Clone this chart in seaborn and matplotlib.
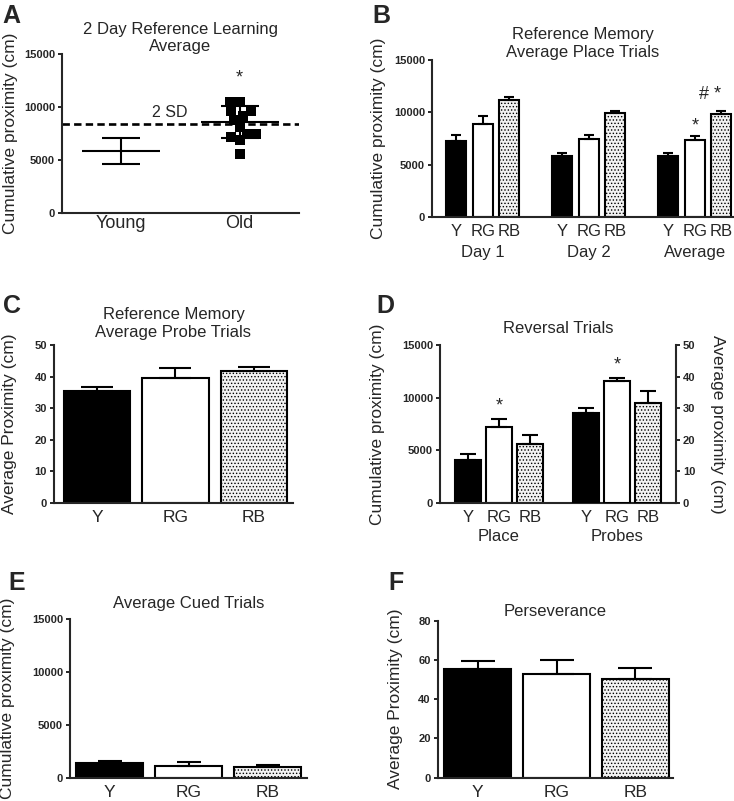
import numpy as np
import pandas as pd
import seaborn as sns
import matplotlib.pyplot as plt
import matplotlib.transforms as mtransforms

# ---- values ----
groups = ["Y", "RG", "RB"]
bar_colors = ["black", "white", "#f2f2f2"]

# A: 2 day reference learning average (Young mean +/- SEM, Old points with mean +/- SD)
a_groups = ["Young", "Old"]
a_means = [5830, 8560]
a_errs = [1210, 1520]
a_old_points = [10500, 10500, 9600, 9600, 9200, 8800, 8100, 7500, 7500, 7200, 6900, 5600]
a_cutoff = 8370

# B: reference memory, place trials
b_days = ["Day 1", "Day 2", "Average"]
b_y = [7300, 5800, 5800]
b_rg = [8880, 7450, 7390]
b_rb = [11160, 9960, 9860]
b_y_err = [560, 350, 350]
b_rg_err = [760, 350, 350]
b_rb_err = [320, 190, 230]

# C: reference memory, probe trials
c_means = [35.5, 39.7, 41.7]
c_errs = [1.3, 2.9, 1.4]

# D: reversal trials (place on left axis, probes on right axis)
d_blocks = ["Place", "Probes"]
d_place = [4040, 7230, 5620]
d_place_err = [570, 790, 820]
d_probe = [28.5, 38.5, 31.8]
d_probe_err = [1.6, 1.0, 3.8]

# E: cued trials
e_means = [1420, 1140, 1040]
e_errs = [190, 340, 190]

# F: perseverance
f_means = [55.4, 52.8, 50.1]
f_errs = [4.0, 7.0, 5.9]

# ---- style ----
sns.set_style("ticks")
plt.rcParams["font.family"] = ["Liberation Sans", "DejaVu Sans"]
plt.rcParams["axes.linewidth"] = 1.5
plt.rcParams["hatch.linewidth"] = 0.6
plt.rcParams["hatch.color"] = "#a5a5a5"

TICK_FAMILY = ["Liberation Sans Narrow", "Liberation Sans", "DejaVu Sans"]

W, H = 734, 801
fig = plt.figure(figsize=(W / 100, H / 100), dpi=100)


def add_ax(l, t, r, b):
    return fig.add_axes([l / W, 1 - b / H, (r - l) / W, (b - t) / H])


def style(ax, title, pad, ylabel, label_x, ticks, xsize=12.5, xpad=5):
    ax.set_title(title, fontsize=12, pad=pad, linespacing=1.2)
    ax.set_ylabel(ylabel, fontsize=12.5)
    ax.yaxis.set_label_coords(label_x, 0.5)
    ax.set_xlabel("")
    ax.set_ylim(ticks[0], ticks[-1])
    ax.set_yticks(ticks, [f"{t:g}" for t in ticks], fontweight="bold",
                  fontsize=8, fontfamily=TICK_FAMILY)
    ax.tick_params(axis="y", length=3, width=1.4, pad=2)
    ax.tick_params(axis="x", length=0, pad=xpad, labelsize=xsize)
    sns.despine(ax=ax)


def dot_fill(patch):
    patch.set_hatch(".....")
    if hasattr(patch, "set_hatchcolor"):
        patch.set_hatchcolor("#a5a5a5")


def up_errors(ax, container, errs, capsize):
    xs = [p.get_x() + p.get_width() / 2 for p in container]
    ys = [p.get_height() for p in container]
    ax.errorbar(xs, ys, yerr=[np.zeros(len(errs)), errs], fmt="none",
                ecolor="black", elinewidth=1.5, capsize=capsize, capthick=1.5)


def star(ax, x, y, text="*", dx=0):
    ax.annotate(text, (x, y), xytext=(dx, -7.5), textcoords="offset points",
                ha="center", va="baseline", fontsize=13)


def center(p):
    return p.get_x() + p.get_width() / 2


def bar_panel(ax, means, errs, capsize):
    df = pd.DataFrame({"group": groups, "mean": means})
    sns.barplot(data=df, x="group", y="mean", hue="group", order=groups,
                hue_order=groups, palette=bar_colors, saturation=1,
                edgecolor="black", linewidth=1.5, width=0.85, errorbar=None,
                legend=False, ax=ax)
    for cont, g, err in zip(ax.containers, groups, errs):
        if g == "RB":
            for p in cont:
                dot_fill(p)
        up_errors(ax, cont, [err], capsize)


# ---- A ----
ax = add_ax(62, 54.3, 299, 212.7)
old_df = pd.DataFrame({"group": "Old", "value": a_old_points})
sns.swarmplot(data=old_df, x="group", y="value", order=a_groups, marker="s",
              size=6.5, color="black", linewidth=0, ax=ax)
xs = np.arange(len(a_groups))
ax.hlines(a_means, xs - 0.33, xs + 0.33, color="black", lw=1.5)
ax.errorbar(xs, a_means, yerr=a_errs, fmt="none", ecolor="black",
            elinewidth=1.5, capsize=14, capthick=1.5)
ax.axhline(a_cutoff, color="black", lw=1.9, ls=(0, (2.8, 1.6)))
ax.text(0.41, 9510, "2 SD", ha="center", va="center", fontsize=11.5)
star(ax, 1, 13350)
ax.set_xlim(-0.5, 1.5)
style(ax, "2 Day Reference Learning\nAverage", -1.7, "Cumulative proximity (cm)",
      -0.186, [0, 5000, 10000, 15000], xsize=13, xpad=2)

# ---- B ----
ax = add_ax(432, 60, 733, 217)
b_df = pd.DataFrame({"day": b_days * 3, "group": np.repeat(groups, 3),
                     "mean": b_y + b_rg + b_rb})
sns.barplot(data=b_df, x="day", y="mean", hue="group", order=b_days,
            hue_order=groups, palette=bar_colors, saturation=1,
            edgecolor="black", linewidth=1.5, width=0.75, gap=0.25,
            errorbar=None, legend=False, ax=ax)
for cont, g, errs in zip(ax.containers, groups, [b_y_err, b_rg_err, b_rb_err]):
    if g == "RB":
        for p in cont:
            dot_fill(p)
    up_errors(ax, cont, errs, 3.3)
star(ax, center(ax.containers[1][2]), 9290)
star(ax, center(ax.containers[2][2]), 12300, text="# *", dx=-8)
ax.set_xlim(-0.48, 2.36)
style(ax, "Reference Memory\nAverage Place Trials", 2.4, "Cumulative proximity (cm)",
      -0.153, [0, 5000, 10000, 15000], xsize=12, xpad=4.7)
pos = sorted([(center(p), g) for cont, g in zip(ax.containers, groups) for p in cont])
ax.set_xticks([x for x, _ in pos], [g for _, g in pos])
trans = mtransforms.blended_transform_factory(ax.transData, ax.transAxes)
for i, d in enumerate(b_days):
    ax.text(i, -0.178, d, transform=trans, ha="center", va="top", fontsize=12)

# ---- C ----
ax = add_ax(54, 345, 293, 503)
bar_panel(ax, c_means, c_errs, 11.5)
ax.set_xlim(-0.55, 2.5)
style(ax, "Reference Memory\nAverage Probe Trials", 6, "Average Proximity (cm)",
      -0.155, [0, 10, 20, 30, 40, 50])

# ---- D ----
ax = add_ax(440, 345, 676, 503)
ax2 = ax.twinx()
place_df = pd.DataFrame({"block": "Place", "group": groups, "mean": d_place})
probe_df = pd.DataFrame({"block": "Probes", "group": groups, "mean": d_probe})
common = dict(x="block", y="mean", hue="group", order=d_blocks, hue_order=groups,
              palette=bar_colors, saturation=1, edgecolor="black", linewidth=1.5,
              width=0.79, gap=0.16, errorbar=None, legend=False)
sns.barplot(data=place_df, ax=ax, **common)
sns.barplot(data=probe_df, ax=ax2, **common)
for a, errs in [(ax, d_place_err), (ax2, d_probe_err)]:
    for cont, g, err in zip(a.containers, groups, errs):
        if g == "RB":
            for p in cont:
                dot_fill(p)
        up_errors(a, cont, [err], 6)
star(ax, center(ax.containers[1][0]), 9790)
star(ax2, center(ax2.containers[1][0]), 45.5)
ax.set_xlim(-0.5, 1.5)
style(ax, "Reversal Trials", 8.4, "Cumulative proximity (cm)", -0.233,
      [0, 5000, 10000, 15000], xsize=12, xpad=5)
ax2.set_ylim(0, 50)
r_ticks = [0, 10, 20, 30, 40, 50]
ax2.set_yticks(r_ticks, [str(t) for t in r_ticks], fontweight="bold",
               fontsize=8, fontfamily=TICK_FAMILY)
ax2.tick_params(axis="y", length=3, width=1.4, pad=2)
ax2.set_ylabel("Average proximity (cm)", fontsize=12.5, rotation=270, va="bottom")
ax2.yaxis.set_label_coords(1.144, 0.5)
for s in ["top", "left", "bottom"]:
    ax2.spines[s].set_visible(False)
ax2.spines["right"].set_visible(True)
ax.spines["right"].set_visible(False)
pos = sorted([(center(p), g) for a in (ax, ax2)
              for cont, g in zip(a.containers, groups) for p in cont])
ax.set_xticks([x for x, _ in pos], [g for _, g in pos])
ax.set_xlim(-0.5, 1.5)
trans = mtransforms.blended_transform_factory(ax.transData, ax.transAxes)
for i, d in enumerate(d_blocks):
    ax.text(i, -0.163, d, transform=trans, ha="center", va="top", fontsize=12)

# ---- E ----
ax = add_ax(70, 619.3, 307, 777.7)
bar_panel(ax, e_means, e_errs, 8.6)
ax.set_xlim(-0.5, 2.5)
style(ax, "Average Cued Trials", 7.9, "Cumulative proximity (cm)", -0.232,
      [0, 5000, 10000, 15000])

# ---- F ----
ax = add_ax(437.7, 620.7, 673, 777.7)
bar_panel(ax, f_means, f_errs, 12)
ax.set_xlim(-0.51, 2.48)
style(ax, "Perseverance", 3.4, "Average Proximity (cm)", -0.149,
      [0, 20, 40, 60, 80])

# ---- panel letters ----
for letter, x, y in [("A", 2, 23), ("B", 372, 23), ("C", 3, 313),
                     ("D", 376, 313), ("E", 8, 590), ("F", 388, 590)]:
    fig.text(x / W, 1 - y / H, letter, fontsize=18, fontweight="bold",
             ha="left", va="baseline")

fig.savefig("out.png", dpi=100)
plt.close(fig)
